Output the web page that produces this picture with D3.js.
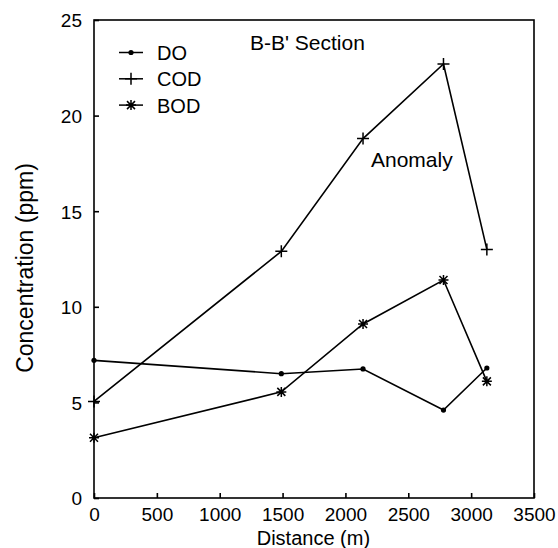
<!DOCTYPE html>
<html>
<head>
<meta charset="utf-8">
<script src="https://cdn.jsdelivr.net/npm/d3@7"></script>
<style>
  body { margin: 0; background: #fff; }
  text { font-family: "Liberation Sans", Arial, Helvetica, sans-serif; fill: #000; }
</style>
</head>
<body>
<div class="chart"></div>
<script>
// data
var distance = [0, 1490, 2140, 2780, 3125];
var doValues = [7.2, 6.5, 6.75, 4.6, 6.8];
var codValues = [5.05, 12.9, 18.8, 22.7, 13.0];
var bodValues = [3.15, 5.55, 9.1, 11.4, 6.1];
var seriesNames = ["DO", "COD", "BOD"];
var xTicks = [0, 500, 1000, 1500, 2000, 2500, 3000, 3500];
var yTicks = [0, 5, 10, 15, 20, 25];

var svgWidth = 558;
var svgHeight = 548;
var margin = { top: 20, right: 24, bottom: 50, left: 94 };
var width = svgWidth - margin.left - margin.right;
var height = svgHeight - margin.top - margin.bottom;

var svg = d3.select(".chart")
  .append("svg")
  .attr("width", svgWidth)
  .attr("height", svgHeight);

var chartGroup = svg.append("g")
  .attr("transform", `translate(${margin.left}, ${margin.top})`);

var xScale = d3.scaleLinear().domain([0, 3500]).range([0, width]);
var yScale = d3.scaleLinear().domain([0, 25]).range([height, 0]);

// frame
chartGroup.append("rect")
  .attr("width", width)
  .attr("height", height)
  .attr("fill", "none")
  .attr("stroke", "#000")
  .attr("stroke-width", 1.6);

// axes with inward ticks
var bottomAxis = d3.axisBottom(xScale).tickValues(xTicks).tickFormat(d3.format("d"))
  .tickSize(-5).tickPadding(10);
var leftAxis = d3.axisLeft(yScale).tickValues(yTicks).tickFormat(d3.format("d"))
  .tickSize(-5).tickPadding(12);

var xg = chartGroup.append("g")
  .attr("transform", `translate(0, ${height})`)
  .call(bottomAxis);
var yg = chartGroup.append("g").call(leftAxis);

[xg, yg].forEach(function(g) {
  g.select(".domain").remove();
  g.selectAll(".tick line").attr("stroke", "#000").attr("stroke-width", 1.6);
  g.selectAll(".tick text").attr("font-size", 19).attr("font-family", null);
});
yg.selectAll(".tick text").attr("dy", "0.36em");

// series
var series = [
  { name: "DO", values: doValues, marker: "dot" },
  { name: "COD", values: codValues, marker: "plus" },
  { name: "BOD", values: bodValues, marker: "star" }
];

var line = d3.line()
  .x(d => xScale(d.x))
  .y(d => yScale(d.y));

function drawMarker(g, type, cx, cy) {
  if (type === "dot") {
    g.append("circle").attr("cx", cx).attr("cy", cy).attr("r", 2.6).attr("fill", "#000");
  } else if (type === "plus") {
    g.append("path")
      .attr("d", `M${cx - 6},${cy}H${cx + 6}M${cx},${cy - 6}V${cy + 6}`)
      .attr("stroke", "#000").attr("stroke-width", 1.5);
  } else {
    var s = 5, t = 4;
    g.append("path")
      .attr("d", `M${cx - s},${cy}H${cx + s}M${cx},${cy - s}V${cy + s}` +
        `M${cx - t},${cy - t}L${cx + t},${cy + t}M${cx - t},${cy + t}L${cx + t},${cy - t}`)
      .attr("stroke", "#000").attr("stroke-width", 1.5);
  }
}

series.forEach(function(s) {
  var pts = distance.map((x, i) => ({ x: x, y: s.values[i] }));
  chartGroup.append("path")
    .datum(pts)
    .attr("d", line)
    .attr("fill", "none")
    .attr("stroke", "#000")
    .attr("stroke-width", 1.6);
  pts.forEach(function(p) {
    drawMarker(chartGroup, s.marker, xScale(p.x), yScale(p.y));
  });
});

// legend
var legend = svg.append("g");
series.forEach(function(s, i) {
  var ly = 52.5 + i * 26.3;
  legend.append("line")
    .attr("x1", 119).attr("x2", 143)
    .attr("y1", ly).attr("y2", ly)
    .attr("stroke", "#000").attr("stroke-width", 1.5);
  drawMarker(legend, s.marker, 131, ly);
  legend.append("text")
    .attr("x", 157)
    .attr("y", ly + 7.5)
    .attr("font-size", 20)
    .text(seriesNames[i]);
});

// annotations
svg.append("text")
  .attr("x", 250).attr("y", 50)
  .attr("font-size", 21)
  .text("B-B' Section");

svg.append("text")
  .attr("x", 371).attr("y", 167)
  .attr("font-size", 21)
  .text("Anomaly");

// axis labels
svg.append("text")
  .attr("x", margin.left + xScale(1745))
  .attr("y", 545)
  .attr("text-anchor", "middle")
  .attr("font-size", 20)
  .text("Distance (m)");

svg.append("text")
  .attr("transform", "translate(33, 268) rotate(-90)")
  .attr("text-anchor", "middle")
  .attr("font-size", 23)
  .text("Concentration (ppm)");
</script>
</body>
</html>
